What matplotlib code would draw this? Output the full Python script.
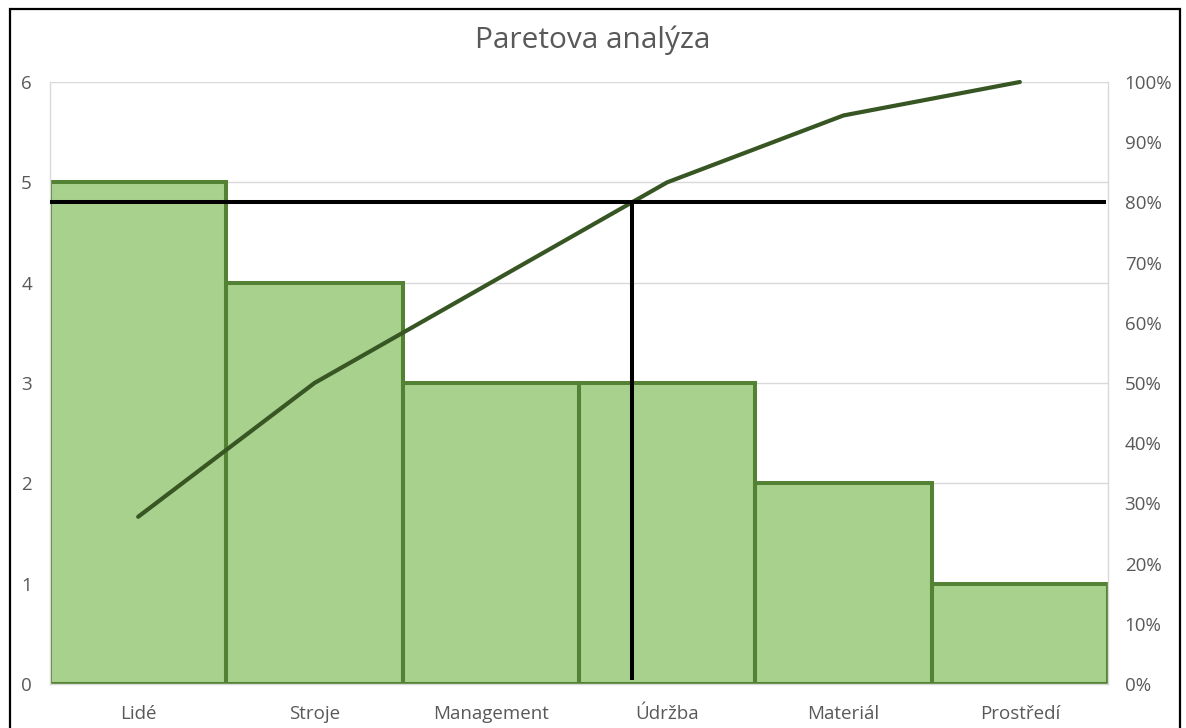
import matplotlib
matplotlib.use("Agg")
import matplotlib.pyplot as plt
from matplotlib.patches import Rectangle
from matplotlib.ticker import FuncFormatter, MultipleLocator
import numpy as np

categories = ["Lidé", "Stroje", "Management", "Údržba", "Materiál", "Prostředí"]
counts = [5, 4, 3, 3, 2, 1]
threshold = 0.80
left_ticks = [0, 1, 2, 3, 4, 5, 6]

plt.rcParams['font.family'] = ['Open Sans', 'DejaVu Sans']

cum = np.cumsum(counts) / np.sum(counts)
x = np.arange(len(categories))

# crossing of the cumulative line with the threshold
i = int(np.argmax(cum >= threshold))
x_cross = x[i - 1] + (threshold - cum[i - 1]) / (cum[i] - cum[i - 1])

fig = plt.figure(figsize=(11.86, 7.28), dpi=100)
ax = fig.add_axes([50 / 1186, 1 - 684 / 728, (1108 - 50) / 1186, (684 - 82) / 728])

ax.bar(x, counts, width=1.0, color="#A9D18E", edgecolor="#548235", linewidth=2.9, zorder=2)
ax.set_xlim(-0.5, len(categories) - 0.5)
ax.set_ylim(0, 6)
ax.set_yticks(left_ticks)
ax.grid(axis='y', color="#D9D9D9", linewidth=1.0, zorder=0)
ax.set_axisbelow(True)
ax.set_xticks(x)
ax.set_xticklabels(categories)
ax.tick_params(axis='x', length=0, pad=15, labelsize=13.5, labelcolor="#595959")
ax.tick_params(axis='y', length=0, pad=13, labelsize=13.5, labelcolor="#595959")
for s in ['left', 'right', 'bottom']:
    ax.spines[s].set_color("#D9D9D9")
    ax.spines[s].set_linewidth(1.0)
ax.spines['top'].set_visible(False)

ax2 = ax.twinx()
ax2.set_ylim(0, 1)
ax2.yaxis.set_major_locator(MultipleLocator(0.1))
ax2.yaxis.set_major_formatter(FuncFormatter(lambda v, p: f"{v * 100:.0f}%"))
ax2.tick_params(axis='y', length=0, pad=12, labelsize=13.5, labelcolor="#595959")
for s in ax2.spines.values():
    s.set_visible(False)

ax2.plot(x, cum, color="#375623", linewidth=3.0, solid_capstyle='round', zorder=4, clip_on=False)
ax2.plot([-0.49, len(categories) - 0.52], [threshold, threshold], color="black", linewidth=2.9, zorder=5)
ax2.plot([x_cross, x_cross], [0.01, threshold], color="black", linewidth=2.9, zorder=5)

fig.text(0.5, 1 - 40 / 728, "Paretova analýza", ha='center', va='center', fontsize=21.5, color="#595959")

fig.patches.append(Rectangle((10 / 1186, -0.05), (1180 - 10) / 1186, 1.05 - 9 / 728,
                             transform=fig.transFigure, fill=False, edgecolor="black", linewidth=1.6))

fig.savefig("out.png", dpi=100)
